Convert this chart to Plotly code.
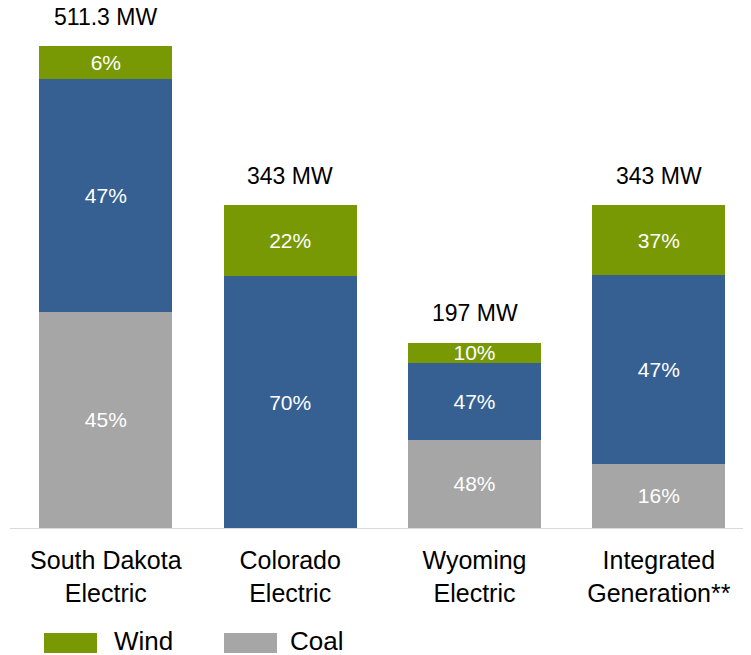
import plotly.graph_objects as go

categories = ["South Dakota<br>Electric", "Colorado<br>Electric", "Wyoming<br>Electric", "Integrated<br>Generation**"]
coal_mw = [229.5, 0, 93.7, 68.2]
gas_mw = [247.6, 267.4, 82.0, 200.2]
wind_mw = [34.2, 75.6, 20.3, 74.6]
coal_pct = ["45%", "", "48%", "16%"]
gas_pct = ["47%", "70%", "47%", "47%"]
wind_pct = ["6%", "22%", "10%", "37%"]
total_labels = ["511.3 MW", "343 MW", "197 MW", "343 MW"]
totals = [511.3, 343, 197, 343]

C_WIND = "#789904"
C_GAS = "#366092"
C_COAL = "#a6a6a6"
FONT = "Liberation Sans, Arial, sans-serif"

OFF = 8  # page body offset
W, H = 751, 655
plot_l, plot_r, plot_t, plot_b = 10 - OFF, 751 - OFF, 10 - OFF, 528 - OFF
plot_w, plot_h = plot_r - plot_l, plot_b - plot_t

x = list(range(len(categories)))
fig = go.Figure()
for name, vals, txt, col in [("Coal", coal_mw, coal_pct, C_COAL),
                             ("Natural Gas", gas_mw, gas_pct, C_GAS),
                             ("Wind", wind_mw, wind_pct, C_WIND)]:
    fig.add_trace(go.Bar(x=x, y=vals, name=name, text=txt, marker_color=col,
                         marker_line_width=0, textposition="inside",
                         insidetextanchor="middle", constraintext="none",
                         textfont=dict(color="white", size=21, family=FONT),
                         showlegend=False, hoverinfo="skip"))

for xi, t, lab in zip(x, totals, total_labels):
    fig.add_annotation(x=xi, y=t, text=lab, showarrow=False, yanchor="bottom",
                       yshift=14, font=dict(size=23, color="black", family=FONT))

# legend (manual, large swatches), positions in window pixels
def px(xp):
    return (xp - OFF - plot_l) / plot_w
def py(yp):
    return (plot_b - (yp - OFF)) / plot_h
for (x0, x1, col, lab, tx) in [(44, 97, C_WIND, "Wind", 112), (224, 277, C_COAL, "Coal", 288)]:
    fig.add_shape(type="rect", xref="paper", yref="paper", x0=px(x0), x1=px(x1),
                  y0=py(633), y1=py(653), fillcolor=col, line_width=0)
    fig.add_annotation(xref="paper", yref="paper", x=px(tx), y=py(641), text=lab,
                       showarrow=False, xanchor="left", yanchor="middle",
                       font=dict(size=26, color="black", family=FONT))

fig.update_layout(
    barmode="stack", bargap=0.28, width=W, height=H,
    margin=dict(l=plot_l, r=W - plot_r, t=plot_t, b=H - plot_b, autoexpand=False),
    plot_bgcolor="white", paper_bgcolor="white",
    font=dict(family=FONT, size=20, color="black"),
    xaxis=dict(tickmode="array", tickvals=x, ticktext=categories, range=[-0.52, 3.5],
               showline=True, linecolor="#d9d9d9", linewidth=1, ticks="",
               showgrid=False, zeroline=False, tickfont=dict(size=25),
               ticklabelstandoff=10, automargin=False),
    yaxis=dict(range=[0, 550], visible=False, showgrid=False, automargin=False),
)
fig.write_html("out.html")
